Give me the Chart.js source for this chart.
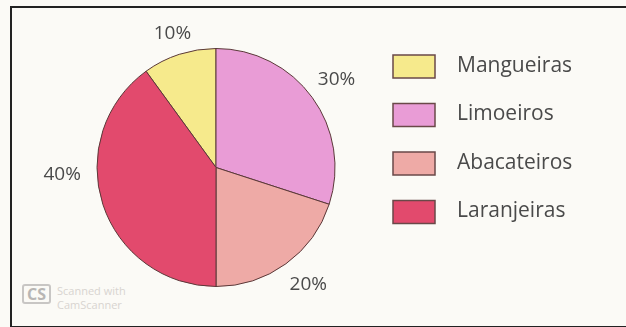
<!DOCTYPE html>
<html>
<head>
    <title>Pomar</title>
    <style>
        html, body {
            margin: 0;
            padding: 0;
            background: #fbfaf6;
        }

        .frame {
            position: absolute;
            left: 10px;
            top: 6px;
            width: 640px;
            height: 318px;
            border-left: 2px solid #222;
            border-top: 2px solid #222;
            border-bottom: 2px solid #222;
        }

        .wrap {
            position: absolute;
            left: 0;
            top: 0;
            width: 626px;
            height: 327px;
        }

        .scan {
            position: absolute;
            left: 22px;
            top: 284px;
            font-family: "Open Sans", sans-serif;
            color: #d8d4d0;
            font-size: 11px;
            line-height: 14px;
        }

        .scan .cs {
            display: inline-block;
            border: 2px solid #c8c6c4;
            border-radius: 3px;
            font-size: 16px;
            font-weight: bold;
            color: #b8b6b4;
            padding: 1px 3px;
            vertical-align: top;
            margin-right: 6px;
        }

        .scan .txt {
            display: inline-block;
        }
    </style>
    <script src="https://cdn.jsdelivr.net/npm/chart.js"></script>
</head>
<body>
    <div class="frame"></div>
    <div class="scan"><span class="cs">CS</span><span class="txt">Scanned with<br>CamScanner</span></div>
    <div class="wrap">
        <canvas id="pieCanvas" width="626" height="327"></canvas>
    </div>

    <script>
        const categories = ["Mangueiras", "Limoeiros", "Abacateiros", "Laranjeiras"];
        const percents = [10, 30, 20, 40];
        const sliceLabels = ["10%", "30%", "20%", "40%"];
        const colors = ["#f6ea8c", "#e99cd6", "#eeaaa6", "#e24a6d"];

        // Percent labels outside the pie, placed from each arc's own geometry
        const outsideLabels = {
            id: "outsideLabels",
            afterDatasetsDraw(chart) {
                const ctx = chart.ctx;
                const meta = chart.getDatasetMeta(0);
                // small nudges so labels sit like the printed figure
                const nudge = [0, 0, -0.04, 0.27];
                const extra = [22, 30, 30, 35];
                ctx.save();
                ctx.font = "19px 'Open Sans', sans-serif";
                ctx.fillStyle = "#4a4a4a";
                ctx.textAlign = "center";
                ctx.textBaseline = "middle";
                meta.data.forEach(function (arc, i) {
                    const p = arc.getProps(["x", "y", "startAngle", "endAngle", "outerRadius"], true);
                    const mid = (p.startAngle + p.endAngle) / 2 + nudge[i];
                    const r = p.outerRadius + extra[i];
                    ctx.fillText(sliceLabels[i], p.x + Math.cos(mid) * r, p.y + Math.sin(mid) * r);
                });
                ctx.restore();
            }
        };

        // Legend on the right, drawn as boxes + names
        const sideLegend = {
            id: "sideLegend",
            afterDraw(chart) {
                const ctx = chart.ctx;
                const x = 393;
                let y = 55;
                ctx.save();
                ctx.font = "21px 'Open Sans', sans-serif";
                ctx.textBaseline = "middle";
                categories.forEach(function (name, i) {
                    ctx.fillStyle = colors[i];
                    ctx.fillRect(x, y, 42, 23);
                    ctx.strokeStyle = "#6a4848";
                    ctx.lineWidth = 1.5;
                    ctx.strokeRect(x, y, 42, 23);
                    ctx.fillStyle = "#4a4a4a";
                    ctx.fillText(name, 457, y + 11);
                    y += 48.5;
                });
                ctx.restore();
            }
        };

        const ctx = document.getElementById("pieCanvas").getContext("2d");

        new Chart(ctx, {
            type: "pie",
            data: {
                labels: categories,
                datasets: [{
                    data: percents,
                    backgroundColor: colors,
                    borderColor: "#5a3838",
                    borderWidth: 1
                }]
            },
            options: {
                responsive: false,
                animation: false,
                rotation: -36,
                layout: {
                    padding: { left: 96, top: 48, right: 290, bottom: 40 }
                },
                plugins: {
                    legend: { display: false },
                    tooltip: { enabled: false }
                }
            },
            plugins: [outsideLabels, sideLegend]
        });
    </script>
</body>
</html>
